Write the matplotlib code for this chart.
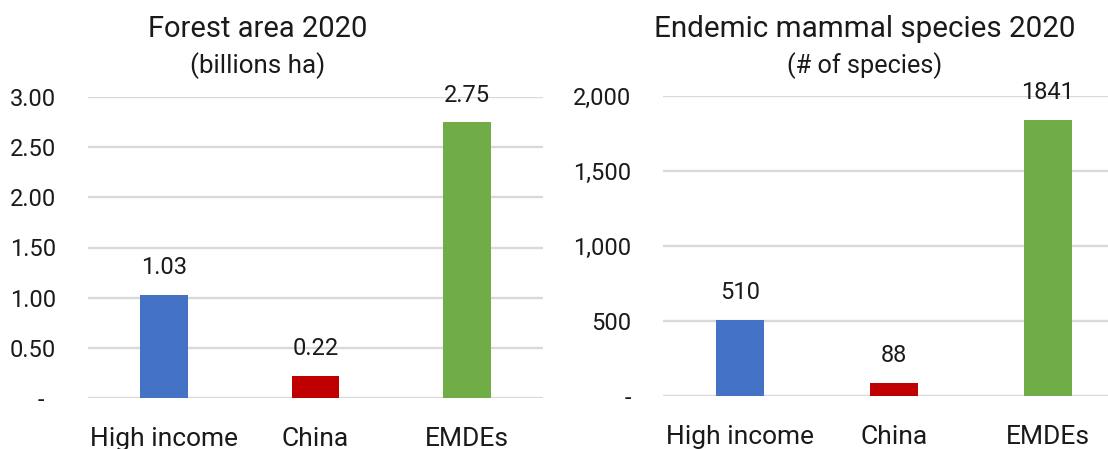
import matplotlib
matplotlib.use("Agg")
import matplotlib.pyplot as plt
from matplotlib.ticker import FixedLocator, FixedFormatter

plt.rcParams['font.family'] = ['Roboto', 'DejaVu Sans']

categories = ["High income", "China", "EMDEs"]
forest_values = [1.03, 0.22, 2.75]
forest_labels = ["1.03", "0.22", "2.75"]
forest_ticks = [0, 0.5, 1.0, 1.5, 2.0, 2.5, 3.0]
forest_ticklabels = ["-  ", "0.50", "1.00", "1.50", "2.00", "2.50", "3.00"]
mammal_values = [510, 88, 1841]
mammal_labels = ["510", "88", "1841"]
mammal_ticks = [0, 500, 1000, 1500, 2000]
mammal_ticklabels = ["-", "500", "1,000", "1,500", "2,000"]
colors = ["#4472C4", "#C00000", "#70AD47"]

W, H = 1108, 449
fig = plt.figure(figsize=(W/100, H/100), dpi=100)
ax1 = fig.add_axes([88/W, (H-398)/H, (543-88)/W, (398-97)/H])
ax2 = fig.add_axes([663/W, (H-396)/H, (1108-663)/W, (396-96)/H])

FS = 17
TXT = '#1a1a1a'

def style(ax, values, labels, ticks, ticklabels, ymax, xlim, width,
          title, subtitle, title_x, title_fs, sub_fs):
    x = list(range(len(categories)))
    bars = ax.bar(x, values, width=width, color=colors, zorder=3)
    for b, lab in zip(bars, labels):
        ax.annotate(lab, (b.get_x() + b.get_width()/2, b.get_height()),
                    xytext=(0, 19.5), textcoords='offset points',
                    ha='center', va='center', fontsize=FS, color=TXT)
    ax.set_ylim(0, ymax)
    ax.set_xlim(*xlim)
    ax.yaxis.set_major_locator(FixedLocator(ticks))
    ax.yaxis.set_major_formatter(FixedFormatter(ticklabels))
    ax.set_xticks(x)
    ax.set_xticklabels(categories)
    ax.tick_params(axis='both', length=0, colors=TXT)
    ax.tick_params(axis='y', pad=23, labelsize=FS)
    ax.tick_params(axis='x', pad=21, labelsize=19)
    ax.grid(axis='y', color='#D9D9D9', linewidth=1.7, zorder=0)
    for s in ax.spines.values():
        s.set_visible(False)
    fig.text(title_x/W, (H-37)/H, title, ha='center', va='baseline',
             fontsize=title_fs, color=TXT)
    fig.text(title_x/W, (H-73)/H, subtitle, ha='center', va='baseline',
             fontsize=sub_fs, color=TXT)

style(ax1, forest_values, forest_labels, forest_ticks, forest_ticklabels, 3.0,
      (-0.5, 2.5), 0.316, "Forest area 2020", "(billions ha)", 258, 21, 18.7)
style(ax2, mammal_values, mammal_labels, mammal_ticks, mammal_ticklabels, 2000,
      (-0.5, 2.393), 0.312, "Endemic mammal species 2020", "(# of species)",
      865, 21.3, 18.2)

fig.savefig("out.png", dpi=100)
